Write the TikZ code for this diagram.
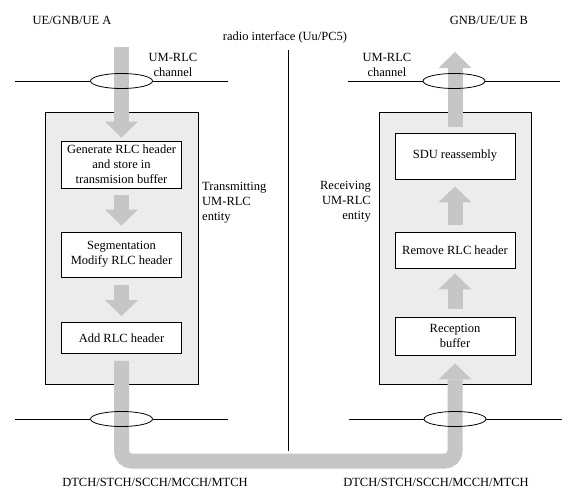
\documentclass[tikz,border=0pt]{standalone}
\usepackage{fontspec}
\setmainfont{Liberation Serif}
\usetikzlibrary{arrows.meta,shapes.geometric}
\begin{document}
\begin{tikzpicture}[x=1pt,y=-1pt,
  every node/.style={font=\fontsize{12.5}{15}\selectfont},
  entity/.style={draw, fill=gray!15, line width=0.8pt, minimum width=153pt, minimum height=272pt, inner sep=0pt},
  stepbox/.style={draw, fill=white, line width=0.8pt, minimum width=120pt, align=center, inner sep=2pt},
  garrow/.style={draw=gray!45, line width=15pt, -{Triangle[width=33pt,length=16pt,line width=0pt]}},
  chan/.style={ellipse, draw, line width=0.8pt, minimum width=62pt, minimum height=15pt, inner sep=0pt},
  wire/.style={line width=0.8pt},
  lbl/.style={align=center, inner sep=0pt},
]
\useasboundingbox (0,0) rectangle (573,490);

% entity boxes
\node[entity] (tx) at (121.5,248) {};
\node[entity, minimum width=152pt] (rx) at (455,248) {};

% processing steps
\node[stepbox, minimum height=47pt] (g1) at (121.5,164.5) {Generate RLC header\\and store in\\transmision buffer};
\node[stepbox, minimum height=45pt] (g2) at (121.5,254.5) {Segmentation\\Modify RLC header};
\node[stepbox, minimum height=31pt] (g3) at (121.5,338) {Add RLC header};

\node[stepbox, minimum height=46pt] (r1) at (455,156) {SDU reassembly};
\node[stepbox, minimum height=36pt] (r2) at (455,250) {Remove RLC header};
\node[stepbox, minimum height=38pt] (r3) at (455,336) {Reception\\buffer};

% flow arrows
\coordinate (srcA) at (121.5,47);
\coordinate (dstB) at (455,52);
\coordinate (busy) at (0,461);
\draw[garrow] (srcA) -- ([yshift=3pt]g1.north);
\draw[garrow] ([yshift=-7pt]g1.south) -- ([yshift=6pt]g2.north);
\draw[garrow] ([yshift=-8pt]g2.south) -- ([yshift=6pt]g3.north);
\draw[garrow, rounded corners=10pt] ([yshift=-7pt]g3.south) -- (g3.south |- busy) -- (r3.south |- busy) -- ([yshift=-8pt]r3.south);
\draw[garrow] ([yshift=8pt]r3.north) -- ([yshift=-5pt]r2.south);
\draw[garrow] ([yshift=7pt]r2.north) -- ([yshift=-7pt]r1.south);
\draw[garrow] ([yshift=6pt]r1.north) -- (dstB);

% channels
\node[chan] (c1) at (121.5,81) {};
\node[chan] (c2) at (454,81) {};
\node[chan] (c3) at (121.5,419) {};
\node[chan] (c4) at (455,419) {};
\coordinate (c1l) at (15,81);  \coordinate (c1r) at (228,81);
\coordinate (c2l) at (348,81); \coordinate (c2r) at (560,81);
\coordinate (c3l) at (15,419); \coordinate (c3r) at (228,419);
\coordinate (c4l) at (349,419);\coordinate (c4r) at (562,419);
\draw[wire] (c1l) -- (c1.west) (c1.east) -- (c1r);
\draw[wire] (c2l) -- (c2.west) (c2.east) -- (c2r);
\draw[wire] (c3l) -- (c3.west) (c3.east) -- (c3r);
\draw[wire] (c4l) -- (c4.west) (c4.east) -- (c4r);

% radio interface
\coordinate (rt) at (288,50);
\coordinate (rb) at (288,451);
\draw[wire] (rt) -- (rb);

% labels
\node[lbl] (ueA) at (72,20) {UE/GNB/UE A};
\node[lbl] (radio) at (285,37) {radio interface (Uu/PC5)};
\node[lbl] (ueB) at (489,20) {GNB/UE/UE B};
\node[lbl] (ch1) at (173,64.5) {UM-RLC\\channel};
\node[lbl] (ch2) at (387,64.5) {UM-RLC\\channel};
\node[lbl, align=left, anchor=west] (txl) at (202,203) {Transmitting\\UM-RLC\\entity};
\node[lbl, align=right, anchor=east] (rxl) at (371,202) {Receiving\\UM-RLC\\entity};
\node[lbl] (d1) at (155,482) {DTCH/STCH/SCCH/MCCH/MTCH};
\node[lbl] (d2) at (436,482) {DTCH/STCH/SCCH/MCCH/MTCH};
\end{tikzpicture}
\end{document}
